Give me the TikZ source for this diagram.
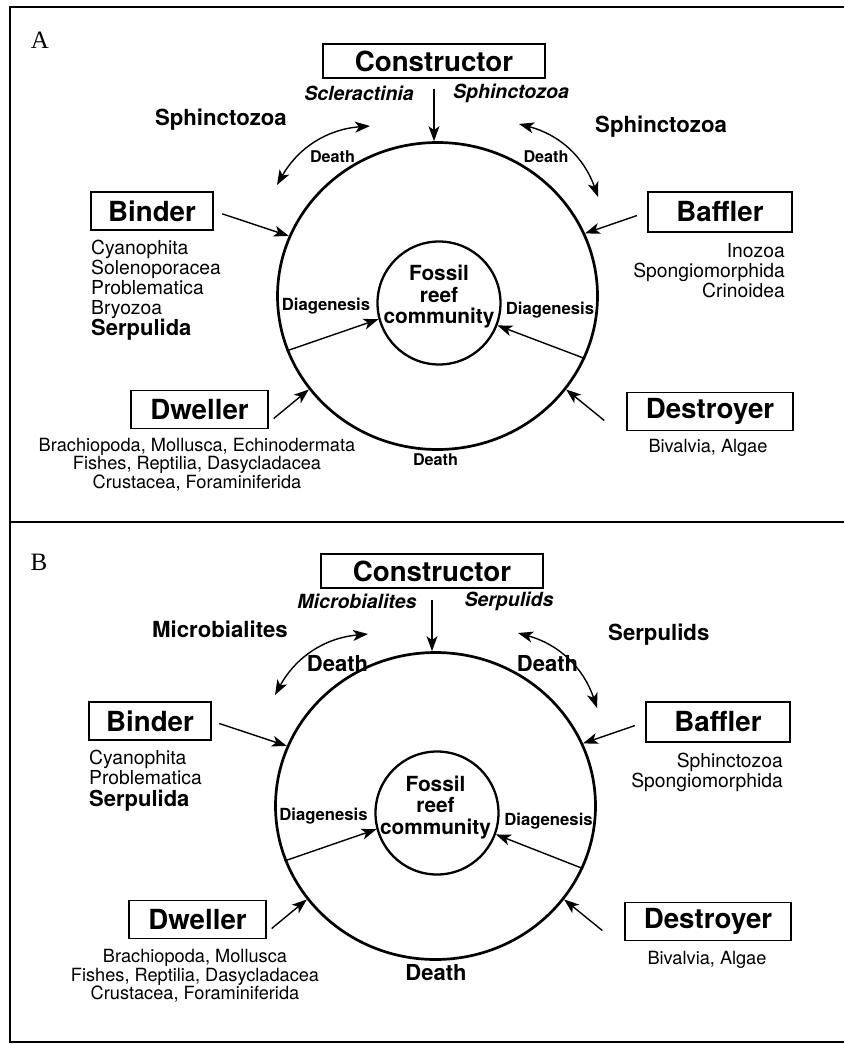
\documentclass[tikz,border=0pt]{standalone}
\usepackage{fontspec}
\setmainfont{TeX Gyre Heros}
\newfontfamily\letterfont{Liberation Serif}
\usetikzlibrary{arrows.meta,shapes.geometric}

\tikzset{
  role/.style={draw, line width=1.4pt, inner sep=0pt, font=\bfseries\fontsize{27.7}{30}\selectfont},
  taxa/.style={inner sep=0pt, font=\fontsize{19.3}{20}\selectfont},
  taxs/.style={inner sep=0pt, font=\fontsize{18.2}{18.5}\selectfont},
  taxab/.style={inner sep=0pt, font=\bfseries\fontsize{22}{24}\selectfont},
  ital/.style={inner sep=0pt, font=\bfseries\itshape\fontsize{19.5}{20}\selectfont},
  side/.style={inner sep=0pt, font=\bfseries\fontsize{22.2}{24}\selectfont},
  diag/.style={inner sep=0pt, font=\bfseries\fontsize{16.7}{18}\selectfont},
  deathsm/.style={inner sep=0pt, font=\bfseries\fontsize{16.2}{18}\selectfont},
  deathbig/.style={inner sep=0pt, font=\bfseries\fontsize{22}{24}\selectfont},
  fossil/.style={inner sep=0pt, align=center, font=\bfseries\fontsize{20.8}{21.5}\selectfont},
  letter/.style={inner sep=0pt, font=\letterfont\fontsize{25}{26}\selectfont},
  ring/.style={draw, ellipse, line width=2.7pt, inner sep=0pt, minimum width=320pt, minimum height=307pt},
  core/.style={draw, circle, line width=2.3pt, inner sep=0pt, minimum size=123pt},
  arr/.style={line width=1.4pt, -{Stealth[length=15pt,width=11pt,inset=4pt]}},
  dblarr/.style={line width=1.4pt, {Stealth[length=15pt,width=11pt,inset=4pt]}-{Stealth[length=15pt,width=11pt,inset=4pt]}}
}

\begin{document}
\begin{tikzpicture}[x=1pt,y=-1pt]
  \useasboundingbox (0,0) rectangle (844,1044);
  % frame
  \draw[line width=2.4pt] (844,7) -- (10,7) -- (10,1042) -- (844,1042);
  \draw[line width=2.4pt] (10,522) -- (844,522);
  % panel A
  \begin{scope}
    \node[letter] (labA) at (40,40) {A};
    \node[role, minimum width=222pt, minimum height=34pt] (conA) at (434,61) {Constructor};
    \node[ital] (sclA) at (359,93) {Scleractinia};
    \node[ital] (sphA) at (511,93) {Sphinctozoa};
    \node[side, anchor=east] (lsA) at (287,120) {Sphinctozoa};
    \node[side, anchor=west] (rsA) at (595,127) {Sphinctozoa};
    \node[ring] (ringA) at (437.5,296) {};
    \node[core] (coreA) at (439,303) {};
    \node[fossil] (fosA) at (439,297) {Fossil\\reef\\community};
    \node[role, minimum width=122pt, minimum height=38pt] (bindA) at (152,211) {Binder};
    \node[taxa, anchor=north west, align=left] (bindlA) at (91,240) {Cyanophita\\Solenoporacea\\Problematica\\Bryozoa};
    \node[taxab, anchor=west] (serA) at (91,330) {Serpulida};
    \node[role, minimum width=144pt, minimum height=40pt] (bafA) at (720,212) {Baffler};
    \node[taxa, anchor=north east, align=right] (baflA) at (785,243) {Inozoa\\Spongiomorphida\\Crinoidea};
    \node[role, minimum width=137pt, minimum height=38pt] (dwlA) at (199.5,409.5) {Dweller};
    \node[taxs, anchor=north, align=center] (dwllA) at (197,438) {Brachiopoda, Mollusca, Echinodermata\\Fishes, Reptilia, Dasycladacea\\Crustacea, Foraminiferida};
    \node[role, minimum width=166pt, minimum height=38pt] (desA) at (710,411.5) {Destroyer};
    \node[taxs] (deslA) at (708,448) {Bivalvia, Algae};
    \node[diag] (dglA) at (326,306) {Diagenesis};
    \node[diag] (dgrA) at (550,310) {Diagenesis};
    \node[deathsm] (dlA) at (332.5,157) {Death};
    \node[deathsm] (drA) at (546,157) {Death};
    \node[deathsm] (dbA) at (435.5,460) {Death};
    \coordinate (alA1) at (370,126);
    \coordinate (alA2) at (277,185);
    \coordinate (arA1) at (519,124);
    \coordinate (arA2) at (598,197);
    \draw[arr, shorten <=10pt] (conA.south) -- (conA.south |- ringA.north);
    \draw[arr, shorten <=9pt] (bindA.east) -- (ringA.158);
    \draw[arr, shorten <=11pt] (bafA.west) -- (ringA.23.5);
    \draw[arr] ([xshift=5pt,yshift=-9pt]dwlA.east) -- (ringA.216);
    \draw[arr] ([xshift=-22pt,yshift=-9pt]desA.west) -- (ringA.-36);
    \draw[arr] (ringA.200) -- (coreA.195);
    \draw[arr] (ringA.337) -- (coreA.339);
    \draw[dblarr] (alA1) to[bend right=28] (alA2);
    \draw[dblarr] (arA1) to[bend left=28] (arA2);
  \end{scope}
  % panel B
  \begin{scope}[shift={(-2,510)}]
    \node[letter] (labB) at (41,52) {B};
    \node[role, minimum width=222pt, minimum height=34pt] (conB) at (434,61) {Constructor};
    \node[ital] (micB) at (359,91) {Microbialites};
    \node[ital] (serpB) at (511,91) {Serpulids};
    \node[side, anchor=east] (lsB) at (290,119) {Microbialites};
    \node[side, anchor=west] (rsB) at (610,125) {Serpulids};
    \node[ring] (ringB) at (437.5,296) {};
    \node[core] (coreB) at (439,303) {};
    \node[fossil] (fosB) at (437.5,297.5) {Fossil\\reef\\community};
    \node[role, minimum width=122pt, minimum height=38pt] (bindB) at (152,211) {Binder};
    \node[taxa, anchor=north west, align=left] (bindlB) at (91,240) {Cyanophita\\Problematica};
    \node[taxab, anchor=west] (serB) at (91,291) {Serpulida};
    \node[role, minimum width=144pt, minimum height=40pt] (bafB) at (720,212) {Baffler};
    \node[taxa, anchor=north east, align=right] (baflB) at (785,243) {Sphinctozoa\\Spongiomorphida};
    \node[role, minimum width=137pt, minimum height=38pt] (dwlB) at (199.5,409.5) {Dweller};
    \node[taxs, anchor=north, align=center] (dwllB) at (197,439.5) {Brachiopoda, Mollusca\\Fishes, Reptilia, Dasycladacea\\Crustacea, Foraminiferida};
    \node[role, minimum width=166pt, minimum height=38pt] (desB) at (710,411.5) {Destroyer};
    \node[taxs] (deslB) at (709,450) {Bivalvia, Algae};
    \node[diag] (dglB) at (325.5,306) {Diagenesis};
    \node[diag] (dgrB) at (550.5,311) {Diagenesis};
    \node[deathbig] (dlB) at (339.5,154) {Death};
    \node[deathbig] (drB) at (549.5,154) {Death};
    \node[deathbig] (dbB) at (438,463) {Death};
    \coordinate (alB1) at (370,124);
    \coordinate (alB2) at (277,185);
    \coordinate (arB1) at (520,123);
    \coordinate (arB2) at (599,198);
    \draw[arr, shorten <=11pt] (conB.south) -- (conB.south |- ringB.north);
    \draw[arr, shorten <=8pt] (bindB.east) -- (ringB.158);
    \draw[arr, shorten <=11pt] (bafB.west) -- (ringB.23.5);
    \draw[arr] ([xshift=5pt,yshift=-9pt]dwlB.east) -- (ringB.216);
    \draw[arr] ([xshift=-22pt,yshift=-9pt]desB.west) -- (ringB.-36);
    \draw[arr] (ringB.200) -- (coreB.195);
    \draw[arr] (ringB.337) -- (coreB.340);
    \draw[dblarr] (alB1) to[bend right=28] (alB2);
    \draw[dblarr] (arB1) to[bend left=28] (arB2);
  \end{scope}
\end{tikzpicture}
\end{document}
